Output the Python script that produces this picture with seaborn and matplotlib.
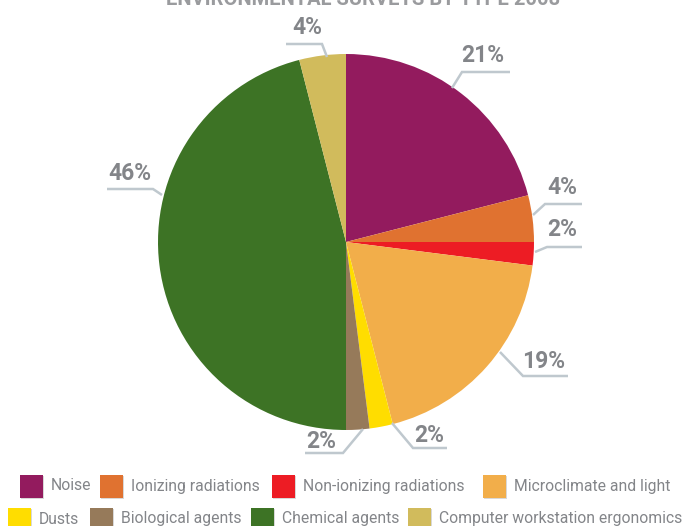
import matplotlib
matplotlib.use("Agg")
import matplotlib.pyplot as plt
from matplotlib.patches import Rectangle
import seaborn as sns

# Survey shares by type (percent)
categories = ["Noise", "Ionizing radiations", "Non-ionizing radiations",
              "Microclimate and light", "Dusts", "Biological agents",
              "Chemical agents", "Computer workstation ergonomics"]
shares = [21, 4, 2, 19, 2, 2, 46, 4]
colors = ["#931B5E", "#E07230", "#ED1C24", "#F2AE4A",
          "#FFDD00", "#967A5A", "#3D7325", "#D1BB5C"]
title = "ENVIRONMENTAL SURVEYS BY TYPE 2008"

sns.set_style("white")
plt.rcParams["font.family"] = ["Roboto", "DejaVu Sans"]

W, H = 686, 526
fig = plt.figure(figsize=(W / 100, H / 100), dpi=100)
ax = fig.add_axes([0, 0, 1, 1])

def Y(p):
    return H - p

GREY = "#838589"
LEADER = "#BFC8CE"

# pie, clockwise from twelve o'clock
cx, cy, r = 346, 242, 188
ax.pie(shares, colors=colors, startangle=90, counterclock=False,
       center=(cx, Y(cy)), radius=r, wedgeprops=dict(linewidth=0))
ax.set_xlim(0, W)
ax.set_ylim(0, H)
ax.set_aspect("equal")
ax.axis("off")

# title (runs off the top edge)
ax.text(363, Y(5), title, ha="center", va="baseline", fontsize=14.5,
        fontweight="bold", color="#9A9B9E")

# percentage callouts: leader polyline and label centre, in pixels
leaders = [
    [(452, 88), (462, 72), (510, 72)],
    [(533, 215), (545, 204), (582, 204)],
    [(535, 252), (547, 247), (582, 247)],
    [(500, 352), (523, 376), (568, 376)],
    [(392, 423), (413, 448), (447, 448)],
    [(363, 429), (343, 453), (305, 453)],
    [(162, 195), (153, 189), (107, 189)],
    [(327, 57), (322, 44), (286, 44)],
]
label_pos = [(483, 55), (562, 187), (562, 230), (544, 361),
             (429, 435), (321, 441), (130, 174), (307, 27)]

for val, pts, (lx, ly) in zip(shares, leaders, label_pos):
    ax.plot([p[0] for p in pts], [Y(p[1]) for p in pts], color=LEADER,
            lw=1.8, solid_capstyle="butt", solid_joinstyle="miter")
    ax.text(lx, Y(ly), f"{val}%", ha="center", va="center",
            fontsize=16.5, fontweight="bold", color=GREY)

# legend in two rows
sq = 23
legend_rows = [
    (486, [20, 100, 272, 483]),
    (519, [8, 90, 251, 408]),
]
k = 0
for row_y, xs in legend_rows:
    for x0 in xs:
        ax.add_patch(Rectangle((x0 + 1, Y(row_y + sq / 2 + 1)), sq, sq,
                               facecolor="#D8D8D8", edgecolor="none",
                               zorder=2))
        ax.add_patch(Rectangle((x0, Y(row_y + sq / 2)), sq, sq,
                               facecolor=colors[k], edgecolor="none",
                               zorder=3))
        ax.text(x0 + sq + 8, Y(row_y), categories[k], ha="left",
                va="center", fontsize=11.3, color=GREY)
        k += 1

fig.savefig("out.png", dpi=100)
